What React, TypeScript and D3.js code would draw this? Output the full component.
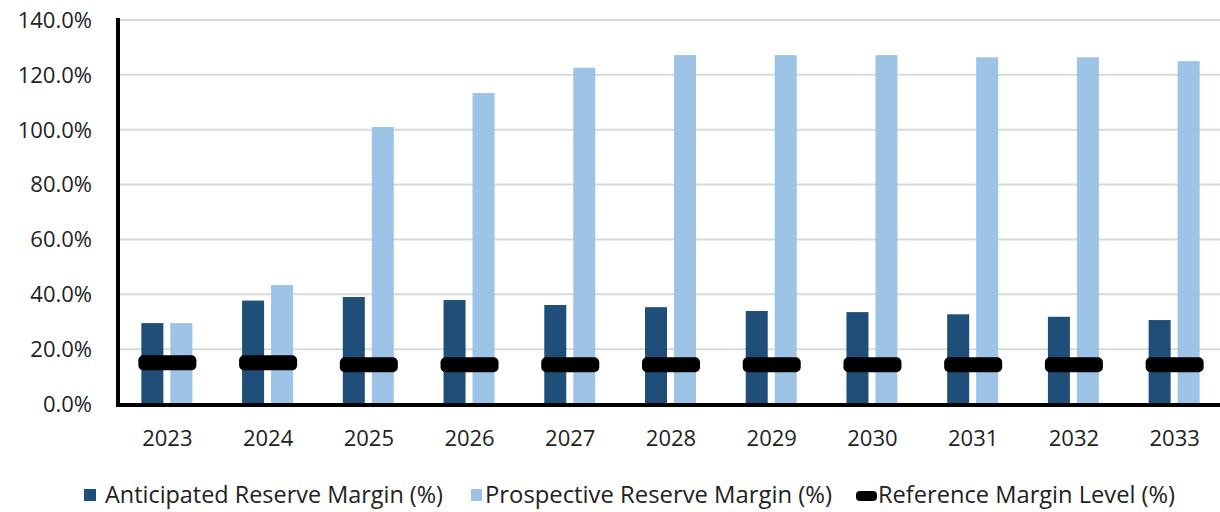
import React from "react";
import * as d3 from "d3";

const years = ["2023","2024","2025","2026","2027","2028","2029","2030","2031","2032","2033"];
const anticipated = [29.5, 37.7, 39.0, 37.9, 36.1, 35.3, 33.9, 33.5, 32.7, 31.8, 30.6];
const prospective = [29.5, 43.4, 101.0, 113.4, 122.6, 127.2, 127.2, 127.2, 126.4, 126.4, 125.0];
const reference = [15.0, 15.0, 14.3, 14.3, 14.3, 14.3, 14.3, 14.3, 14.3, 14.3, 14.3];
const yTicks = [0, 20, 40, 60, 80, 100, 120, 140];
const legendLabels = ["Anticipated Reserve Margin (%)", "Prospective Reserve Margin (%)", "Reference Margin Level (%)"];

const W = 1220, H = 512;
const DARK = "#1f4e79";
const LIGHT = "#9dc3e6";
const FONT = "Open Sans, sans-serif";

export default function App() {
  const x = d3.scaleBand<string>().domain(years).range([117, 1225]).paddingInner(0).paddingOuter(0);
  const y = d3.scaleLinear().domain([0, 140]).range([404, 20]);
  const bw = x.bandwidth();
  const barW = 22;
  return (
    <svg width={W} height={H} style={{ position: "absolute", left: 0, top: 0, background: "#fff" }}>
      {yTicks.map((t) => (
        <g key={t}>
          {t > 0 && <line x1={118} x2={W} y1={y(t)} y2={y(t)} stroke="#d9d9d9" strokeWidth={2} />}
          <text x={92} y={y(t)} dy="0.36em" textAnchor="end" fontFamily={FONT} fontSize={22} fill="#222">
            {t.toFixed(1) + "%"}
          </text>
        </g>
      ))}
      {years.map((yr, i) => {
        const x0 = x(yr)!;
        const c = x0 + bw / 2;
        return (
          <g key={yr}>
            <rect x={c - 4 - barW} y={y(anticipated[i])} width={barW} height={y(0) - y(anticipated[i])} fill={DARK} />
            <rect x={c + 3} y={y(prospective[i])} width={barW} height={y(0) - y(prospective[i])} fill={LIGHT} />
            <rect x={c - 29} y={y(reference[i]) - 7.5} width={58} height={15} rx={5} fill="#000" />
            <text x={c} y={446} textAnchor="middle" fontFamily={FONT} fontSize={22} fill="#222">{yr}</text>
          </g>
        );
      })}
      <line x1={118} x2={118} y1={18} y2={406} stroke="#000" strokeWidth={4} />
      <line x1={116} x2={W} y1={405} y2={405} stroke="#000" strokeWidth={4} />
      {/* legend */}
      <rect x={84} y={489} width={12} height={12} fill={DARK} />
      <text x={105} y={503} fontFamily={FONT} fontSize={23} fill="#222" textLength={338} lengthAdjust="spacingAndGlyphs">{legendLabels[0]}</text>
      <rect x={471} y={489} width={11} height={12} fill={LIGHT} />
      <text x={485} y={503} fontFamily={FONT} fontSize={23} fill="#222" textLength={347} lengthAdjust="spacingAndGlyphs">{legendLabels[1]}</text>
      <rect x={856} y={491} width={21} height={10} rx={4} fill="#000" />
      <text x={878} y={503} fontFamily={FONT} fontSize={23} fill="#222" textLength={297} lengthAdjust="spacingAndGlyphs">{legendLabels[2]}</text>
    </svg>
  );
}
